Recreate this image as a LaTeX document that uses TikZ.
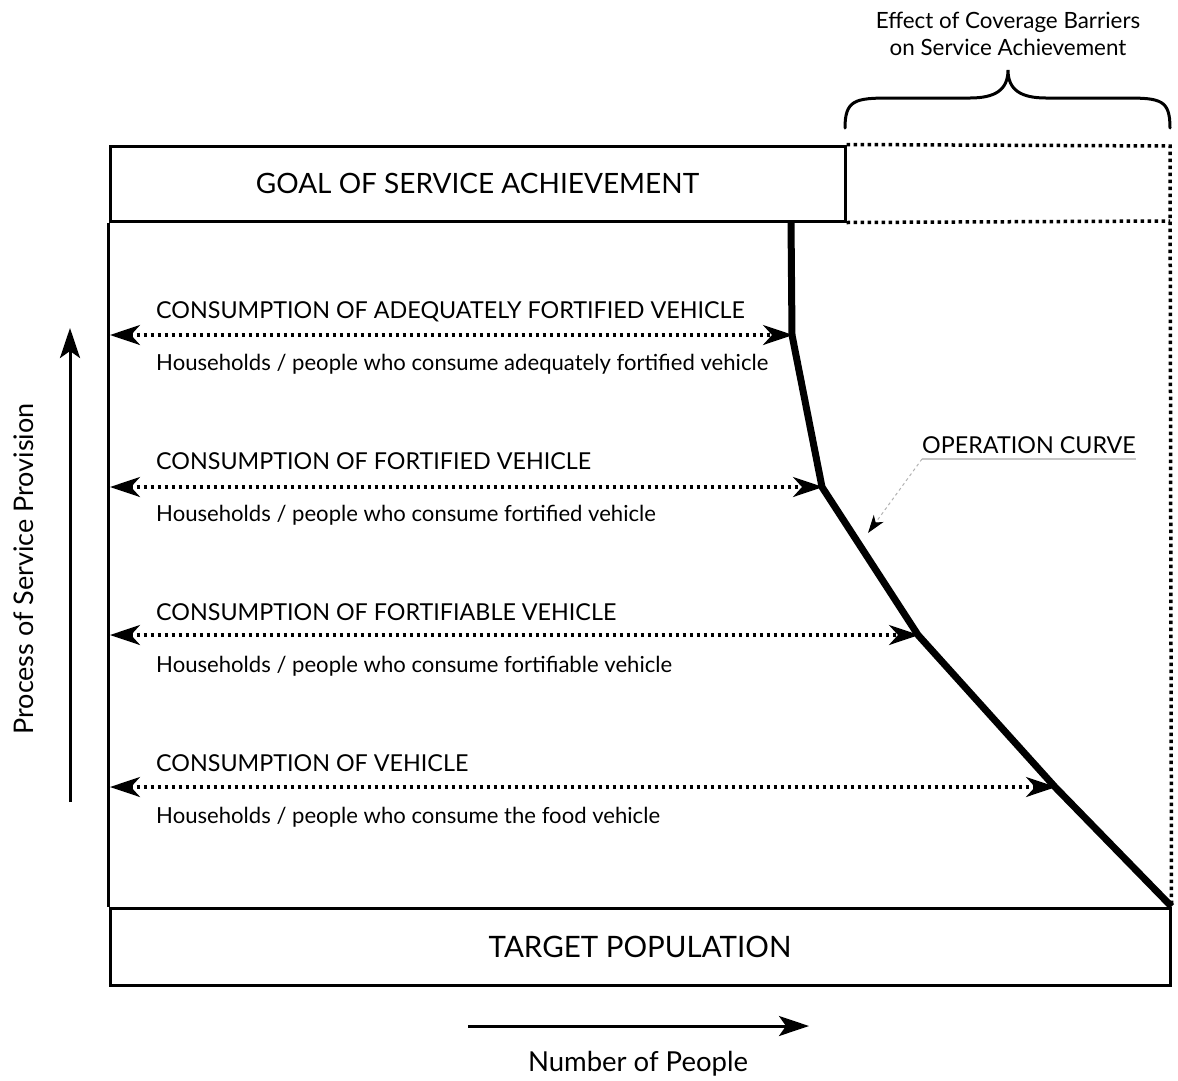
\documentclass[tikz,border=0pt]{standalone}
\usepackage{fontspec}
\setmainfont{Lato}
\usetikzlibrary{arrows.meta}
\begin{document}
\begin{tikzpicture}[x=1pt,y=-1pt,
  framebox/.style={draw, line width=3pt, inner sep=0pt},
  dotline/.style={line width=3.5pt, dash pattern=on 3.5pt off 3.5pt},
  tipS/.tip={Stealth[length=30pt,width=20pt,inset=9pt]},
  consarrow/.style={dotline, {tipS}-{tipS}, shorten <=-1pt, shorten >=-1pt},
  curveline/.style={line width=7pt, line join=miter},
  head/.style={anchor=base west, inner sep=0pt, font=\fontsize{23.3}{27}\selectfont},
  sub/.style={anchor=base west, inner sep=0pt, font=\fontsize{22.1}{26}\selectfont},
  lab/.style={inner sep=0pt},
  axis/.style={line width=3pt, -{Stealth[length=30pt,width=20pt,inset=7pt]}}
]
\useasboundingbox (0,0) rectangle (1178,1080);

% boxes
\node[framebox, minimum width=735pt, minimum height=75pt, font=\fontsize{28}{32}\selectfont] (goal) at (477.5,183.5) {GOAL OF SERVICE ACHIEVEMENT};
\node[framebox, minimum width=1060pt, minimum height=77pt, font=\fontsize{29.5}{34}\selectfont] (target) at (640,946.5) {TARGET POPULATION};

% left frame line
\draw[line width=3pt] (goal.south west) -- (target.north west);

% dotted extension
\coordinate (tr) at (1170,146);
\coordinate (mr) at (1170,221);
\draw[dotline] (goal.north east) -- (tr) -- (target.north east);
\draw[dotline] (goal.south east) -- (mr);

% operation curve points
\coordinate (p0) at (791,221);
\coordinate (p1) at (792,335);
\coordinate (p2) at (822,487);
\coordinate (p3) at (918,635);
\coordinate (p4) at (1055,787);
\coordinate (p5) at (target.north east);
\draw[curveline] (p0) -- (p1) -- (p2) -- (p3) -- (p4) -- (p5);

% left ends of arrows
\coordinate (l1) at (111,335);
\coordinate (l2) at (111,487);
\coordinate (l3) at (111,635);
\coordinate (l4) at (111,787);
\draw[consarrow] (l1) -- (p1);
\draw[consarrow] (l2) -- (p2);
\draw[consarrow] (l3) -- (p3);
\draw[consarrow] (l4) -- (p4);

% labels
\node[head] (h1) at (156,318) {CONSUMPTION OF ADEQUATELY FORTIFIED VEHICLE};
\node[sub]  (s1) at (156,370) {Households / people who consume adequately fortified vehicle};
\node[head] (h2) at (156,469) {CONSUMPTION OF FORTIFIED VEHICLE};
\node[sub]  (s2) at (156,521) {Households / people who consume fortified vehicle};
\node[head] (h3) at (156,620) {CONSUMPTION OF FORTIFIABLE VEHICLE};
\node[sub]  (s3) at (156,672) {Households / people who consume fortifiable vehicle};
\node[head] (h4) at (156,771) {CONSUMPTION OF VEHICLE};
\node[sub]  (s4) at (156,823) {Households / people who consume the food vehicle};

% operation curve label
\node[head, anchor=base] (oc) at (1029,453) {OPERATION CURVE};
\coordinate (ocl) at (922,459);
\coordinate (ocr) at (1136,459);
\coordinate (oct) at (868,533);
\draw[gray!45, line width=1.5pt] (ocl) -- (ocr);
\draw[gray!60, line width=1pt, dashed, -{Stealth[length=18pt,width=12pt,inset=5pt,black]}] (ocl) -- (oct);

% brace
\coordinate (bl) at (845,128);
\coordinate (br) at (1170,128);
\coordinate (bm) at (1008,70);
\draw[line width=3pt, line cap=round] (bl) .. controls (845,100) and (855,98) .. (890,98)
  -- (970,98) .. controls (995,98) and (1008,90) .. (bm)
  .. controls (1008,90) and (1021,98) .. (1046,98)
  -- (1126,98) .. controls (1161,98) and (1170,100) .. (br);
\node[lab, align=center, font=\fontsize{22.4}{27}\selectfont] (eff) at (1008,34) {Effect of Coverage Barriers\\on Service Achievement};

% axes
\coordinate (ya) at (70,802);
\coordinate (yb) at (70,328);
\draw[axis] (ya) -- (yb);
\node[lab, rotate=90, font=\fontsize{27}{31}\selectfont] (ylab) at (24,569) {Process of Service Provision};
\coordinate (xa) at (468,1026);
\coordinate (xb) at (809,1026);
\draw[axis] (xa) -- (xb);
\node[lab, font=\fontsize{27.5}{31}\selectfont] (xlab) at (638,1064) {Number of People};
\end{tikzpicture}
\end{document}
